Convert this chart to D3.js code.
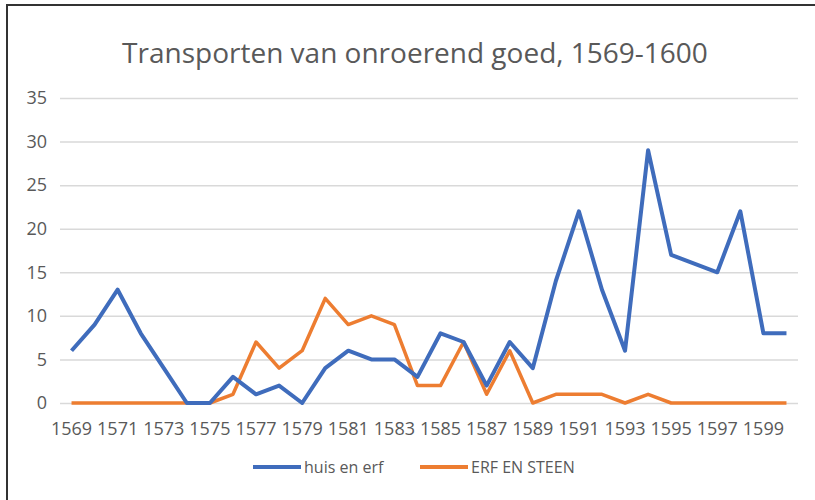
<!DOCTYPE html>
<html>
<head>
<meta charset="utf-8">
<script src="https://cdn.jsdelivr.net/npm/d3@7"></script>
<style>
  body { margin: 0; background: #fff; }
  text { font-family: "Open Sans", sans-serif; fill: #595959; }
</style>
</head>
<body>
<div class="chart"></div>
<script>
var years = d3.range(1569, 1601);
var huisEnErf = [6, 9, 13, 8, 4, 0, 0, 3, 1, 2, 0, 4, 6, 5, 5, 3,
  8, 7, 2, 7, 4, 14, 22, 13, 6, 29, 17, 16, 15, 22, 8, 8];
var erfEnSteen = [0, 0, 0, 0, 0, 0, 0, 1, 7, 4, 6, 12, 9, 10, 9, 2,
  2, 7, 1, 6, 0, 1, 1, 1, 0, 1, 0, 0, 0, 0, 0, 0];
var yTicks = [0, 5, 10, 15, 20, 25, 30, 35];
var seriesNames = ["huis en erf", "ERF EN STEEN"];
var seriesColors = ["#3f6cbc", "#ed7d31"];

var svgWidth = 815;
var svgHeight = 500;
var margin = { top: 98, right: 17, bottom: 97, left: 60 };
var width = svgWidth - margin.left - margin.right;
var height = svgHeight - margin.top - margin.bottom;

var svg = d3.select(".chart")
  .append("svg")
  .attr("width", svgWidth)
  .attr("height", svgHeight);

// frame (only top and left edges show in the scan)
svg.append("path")
  .attr("d", "M7," + svgHeight + "V5H" + svgWidth)
  .attr("fill", "none")
  .attr("stroke", "#333")
  .attr("stroke-width", 2);

svg.append("text")
  .attr("x", 415)
  .attr("y", 63)
  .attr("text-anchor", "middle")
  .style("font-size", "28px")
  .text("Transporten van onroerend goed, 1569-1600");

var chartGroup = svg.append("g")
  .attr("transform", `translate(${margin.left}, ${margin.top})`);

var xScale = d3.scaleBand()
  .domain(years)
  .range([0, width]);

var yScale = d3.scaleLinear()
  .domain([0, 35])
  .range([height, 0]);

// gridlines + y labels
var leftAxis = d3.axisLeft(yScale)
  .tickValues(yTicks)
  .tickSize(-width)
  .tickPadding(13);

chartGroup.append("g")
  .call(leftAxis)
  .call(g => g.select(".domain").remove())
  .call(g => g.selectAll(".tick line").attr("stroke", "#d9d9d9").attr("stroke-width", 1.5))
  .call(g => g.selectAll(".tick text").style("font-size", "18px").attr("fill", "#595959"));

// x labels, every second year
var bottomAxis = d3.axisBottom(xScale)
  .tickValues(years.filter((d, i) => i % 2 === 0))
  .tickSize(0)
  .tickPadding(19);

chartGroup.append("g")
  .attr("transform", `translate(0, ${height})`)
  .call(bottomAxis)
  .call(g => g.select(".domain").remove())
  .call(g => g.selectAll(".tick text").style("font-size", "18px").attr("fill", "#595959"));

var line = d3.line()
  .x((d, i) => xScale(years[i]) + xScale.bandwidth() / 2)
  .y(d => yScale(d));

chartGroup.append("path")
  .datum(erfEnSteen)
  .attr("fill", "none")
  .attr("stroke", seriesColors[1])
  .attr("stroke-width", 3.5)
  .attr("stroke-linejoin", "round")
  .attr("d", line);

chartGroup.append("path")
  .datum(huisEnErf)
  .attr("fill", "none")
  .attr("stroke", seriesColors[0])
  .attr("stroke-width", 4)
  .attr("stroke-linejoin", "round")
  .attr("d", line);

// legend
var legend = svg.append("g");
var legendX = [253, 420];
seriesNames.forEach(function(name, i) {
  legend.append("line")
    .attr("x1", legendX[i])
    .attr("x2", legendX[i] + 48)
    .attr("y1", 467)
    .attr("y2", 467)
    .attr("stroke", seriesColors[i])
    .attr("stroke-width", 4);
  legend.append("text")
    .attr("x", legendX[i] + 51)
    .attr("y", 473)
    .style("font-size", "16px")
    .text(name);
});
</script>
</body>
</html>
